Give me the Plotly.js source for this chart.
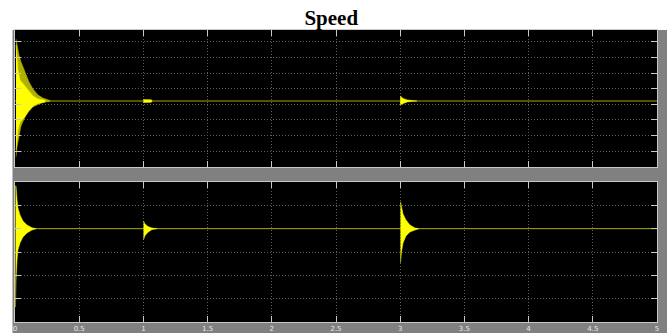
<!DOCTYPE html>
<html>
<head>
<meta charset="utf-8">
<script src="https://cdn.plot.ly/plotly-3.0.1.min.js"></script>
<style>html,body{margin:0;padding:0;background:#fff;}#chart{width:672px;height:333px;}</style>
</head>
<body>
<div id="chart"></div>
<script>
// ---- Data (time in s, values in axis units) ----
var xTicks = [0, 0.5, 1, 1.5, 2, 2.5, 3, 3.5, 4, 4.5, 5];
var xTickLabels = ['0', '0.5', '1', '1.5', '2', '2.5', '3', '3.5', '4', '4.5', '5'];

// Top panel: steady level
var topSteadyT = [0, 5];
var topSteadyV = [0.21, 0.21];

// Top panel start transient, outer envelope
var topOuterT = [0.008, 0.016, 0.031, 0.047, 0.078, 0.109, 0.140, 0.179, 0.218, 0.273];
var topOuterUp = [4.18, 3.73, 3.16, 2.71, 2.00, 1.43, 0.98, 0.60, 0.40, 0.24];
var topOuterLo = [-3.37, -2.73, -1.97, -1.39, -0.81, -0.43, -0.17, -0.01, 0.12, 0.18];

// Top panel start transient, inner (bright) envelope
var topInnerT = [0.008, 0.023, 0.039, 0.070, 0.101, 0.140, 0.179, 0.234];
var topInnerUp = [3.80, 2.20, 1.56, 1.24, 0.92, 0.53, 0.34, 0.26];
var topInnerLo = [-2.93, -1.65, -1.13, -0.88, -0.49, -0.11, 0.05, 0.15];

// Top panel disturbance at t=1
var top1T = [1.000, 1.030, 1.062, 1.068];
var top1Up = [0.30, 0.30, 0.29, 0.21];
var top1Lo = [0.12, 0.12, 0.13, 0.21];

// Top panel disturbance at t=3
var top3T = [3.000, 3.023, 3.055, 3.100, 3.130];
var top3Up = [0.53, 0.37, 0.28, 0.23, 0.21];
var top3Lo = [-0.04, 0.05, 0.15, 0.19, 0.21];

// Bottom panel: steady level
var botSteadyT = [0, 5];
var botSteadyV = [0, 0];

// Bottom panel start transient
var bot0T = [0.004, 0.008, 0.016, 0.023, 0.039, 0.062, 0.093, 0.132, 0.164];
var bot0Up = [1.83, 1.83, 1.23, 0.89, 0.59, 0.33, 0.16, 0.04, 0.00];
var bot0Lo = [-3.36, -2.20, -1.34, -0.91, -0.61, -0.36, -0.19, -0.06, 0.00];

// Bottom panel disturbance at t=1
var bot1T = [1.001, 1.012, 1.036, 1.067, 1.106];
var bot1Up = [0.33, 0.20, 0.09, 0.03, 0.00];
var bot1Lo = [-0.47, -0.30, -0.15, -0.04, 0.00];

// Bottom panel disturbance at t=3
var bot3T = [3.002, 3.010, 3.022, 3.045, 3.076, 3.115, 3.146];
var bot3Up = [1.16, 0.89, 0.63, 0.37, 0.16, 0.03, 0.00];
var bot3Lo = [-1.47, -1.00, -0.61, -0.31, -0.14, -0.06, 0.00];

// ---- helpers ----
function band(t, up, lo, color, xa, ya) {
  return {
    x: t.concat(t.slice().reverse()),
    y: up.concat(lo.slice().reverse()),
    xaxis: xa, yaxis: ya,
    type: 'scatter', mode: 'lines', fill: 'toself',
    fillcolor: color, line: {color: color, width: 0.5},
    hoverinfo: 'skip', showlegend: false
  };
}
function steady(t, v, xa, ya) {
  return {x: t, y: v, xaxis: xa, yaxis: ya, type: 'scatter', mode: 'lines',
    line: {color: '#a6a600', width: 1}, hoverinfo: 'skip', showlegend: false};
}

var YEL = '#ffff00', OLIVE = '#b0b000';
var data = [
  steady(topSteadyT, topSteadyV, 'x', 'y'),
  band(topOuterT, topOuterUp, topOuterLo, OLIVE, 'x', 'y'),
  band(topInnerT, topInnerUp, topInnerLo, YEL, 'x', 'y'),
  band(top1T, top1Up, top1Lo, YEL, 'x', 'y'),
  band(top3T, top3Up, top3Lo, YEL, 'x', 'y'),
  steady(botSteadyT, botSteadyV, 'x2', 'y2'),
  band(bot0T, bot0Up, bot0Lo, YEL, 'x2', 'y2'),
  band(bot1T, bot1Up, bot1Lo, YEL, 'x2', 'y2'),
  band(bot3T, bot3Up, bot3Lo, YEL, 'x2', 'y2')
];

var W = 672, H = 333, ML = 15, MR = 15, MT = 30, MB = 11;
var PW = W - ML - MR, PH = H - MT - MB;
var topDom = [(322 - 167) / PH, 1];
var botDom = [0, (322 - 182) / PH];

var gridStyle = {gridcolor: '#5c5c5c', griddash: '1px,2px', gridwidth: 1};
function xAxis(anchor, labels) {
  return Object.assign({
    range: [0, 5], tickvals: xTicks, ticktext: xTickLabels, showticklabels: labels,
    ticks: 'inside', ticklen: 6, tickcolor: '#c8c8c8', tickwidth: 1,
    showline: true, linecolor: '#c8c8c8', linewidth: 1, mirror: 'ticks',
    zeroline: false, anchor: anchor, domain: [0, 1],
    tickfont: {family: 'DejaVu Sans', size: 7, color: '#e8e8e8'}, fixedrange: true
  }, gridStyle);
}
function yAxis(range, dom, anchor) {
  return Object.assign({
    range: range, tick0: 0, dtick: 1, showticklabels: false,
    ticks: 'inside', ticklen: 6, tickcolor: '#c8c8c8', tickwidth: 1,
    showline: true, linecolor: '#c8c8c8', linewidth: 1, mirror: 'ticks',
    zeroline: false, domain: dom, anchor: anchor, fixedrange: true
  }, gridStyle);
}

var GRAY = '#808080';
var layout = {
  width: W, height: H,
  margin: {l: ML, r: MR, t: MT, b: MB, pad: 0},
  paper_bgcolor: '#ffffff', plot_bgcolor: '#000000',
  showlegend: false,
  title: {text: '<b>Speed</b>', x: 0.493, xanchor: 'center', y: 1 - 18 / H, yanchor: 'middle',
    yref: 'container', xref: 'container',
    font: {family: 'Liberation Serif', size: 21, color: '#000000'}},
  xaxis: xAxis('y', false),
  yaxis: yAxis([-4.02, 4.76], topDom, 'x'),
  xaxis2: xAxis('y2', true),
  yaxis2: yAxis([-4, 2], botDom, 'x2'),
  shapes: [
    // left strip
    {type: 'rect', xref: 'paper', yref: 'paper', x0: -2.5 / PW, x1: 0, y0: -MB / PH, y1: 1,
      fillcolor: GRAY, line: {width: 0}, layer: 'below'},
    // right strip
    {type: 'rect', xref: 'paper', yref: 'paper', x0: 1, x1: 1 + 10 / PW, y0: -MB / PH, y1: 1,
      fillcolor: GRAY, line: {width: 0}, layer: 'below'},
    // band between panels
    {type: 'rect', xref: 'paper', yref: 'paper', x0: 0, x1: 1, y0: botDom[1], y1: topDom[0],
      fillcolor: GRAY, line: {width: 0}, layer: 'below'},
    // bottom strip
    {type: 'rect', xref: 'paper', yref: 'paper', x0: 0, x1: 1, y0: -MB / PH, y1: 0,
      fillcolor: GRAY, line: {width: 0}, layer: 'below'}
  ]
};

Plotly.newPlot('chart', data, layout, {staticPlot: true, displayModeBar: false});
</script>
</body>
</html>
